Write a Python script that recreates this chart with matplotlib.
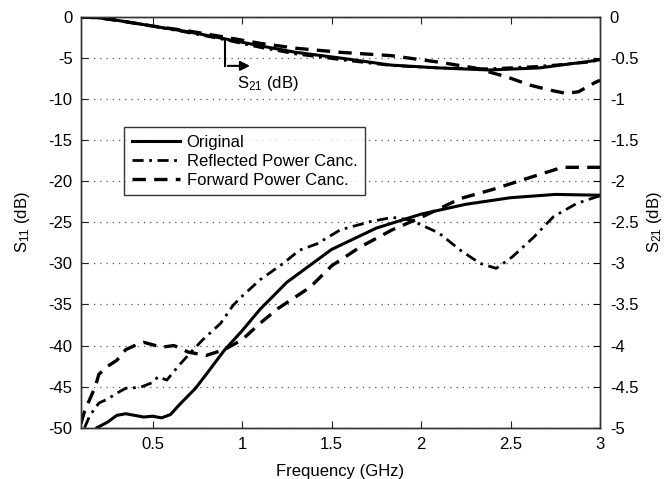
import matplotlib
matplotlib.use("Agg")
import matplotlib.pyplot as plt
import numpy as np

plt.rcParams['font.family'] = ['Liberation Sans', 'DejaVu Sans']
plt.rcParams['font.size'] = 12
plt.rcParams['mathtext.fontset'] = 'custom'
plt.rcParams['mathtext.rm'] = 'Liberation Sans'
plt.rcParams['mathtext.it'] = 'Liberation Sans'

# S11 (left axis, dB)
f_orig11 = [0.19, 0.25, 0.3, 0.35, 0.45, 0.5, 0.55, 0.6, 0.65, 0.74, 0.8, 0.9, 1.0, 1.1, 1.25, 1.5, 1.75, 2.0, 2.25, 2.5, 2.75, 3.0]
s11_orig = [-50, -49.3, -48.5, -48.3, -48.7, -48.6, -48.8, -48.4, -47.2, -45.2, -43.5, -40.6, -38.2, -35.6, -32.3, -28.3, -25.7, -24.0, -22.8, -22.0, -21.6, -21.7]

f_refl11 = [0.12, 0.15, 0.2, 0.25, 0.3, 0.35, 0.43, 0.5, 0.53, 0.58, 0.64, 0.71, 0.78, 0.88, 0.95, 1.0, 1.1, 1.23, 1.32, 1.42, 1.55, 1.72, 1.84, 1.94, 2.1, 2.22, 2.33, 2.42, 2.51, 2.63, 2.74, 2.87, 2.98, 3.0]
s11_refl = [-50, -48.5, -47.0, -46.5, -45.8, -45.2, -45.1, -44.5, -43.8, -44.2, -42.6, -40.9, -39.3, -37.3, -35.1, -34.0, -32.0, -30.0, -28.4, -27.6, -25.9, -24.9, -24.4, -24.7, -26.3, -28.4, -30.0, -30.6, -29.2, -26.8, -24.3, -22.7, -21.9, -21.8]

f_fwd11 = [0.1, 0.12, 0.15, 0.18, 0.2, 0.25, 0.3, 0.35, 0.4, 0.45, 0.55, 0.62, 0.7, 0.8, 0.9, 1.0, 1.1, 1.2, 1.38, 1.5, 1.66, 1.84, 2.0, 2.22, 2.4, 2.6, 2.79, 3.0]
s11_fwd = [-49.5, -48.0, -46.5, -45.0, -43.5, -42.5, -41.8, -40.5, -40.0, -39.6, -40.2, -40.0, -40.8, -41.2, -40.5, -39.3, -37.3, -35.5, -32.9, -30.3, -28.0, -25.9, -24.4, -22.1, -21.0, -19.6, -18.3, -18.3]

# S21 (right axis, dB)
f_21 = [0.1, 0.2, 0.3, 0.5, 0.7, 0.89, 1.1, 1.3, 1.55, 1.83, 2.1, 2.38, 2.66, 2.94, 3.0]
s21_orig = [0.0, -0.01, -0.04, -0.11, -0.18, -0.26, -0.35, -0.43, -0.50, -0.585, -0.62, -0.645, -0.62, -0.54, -0.52]
s21_refl = [0.0, -0.01, -0.04, -0.11, -0.19, -0.27, -0.37, -0.45, -0.52, -0.59, -0.62, -0.63, -0.60, -0.55, -0.52]
f_fwd21 = [0.1, 0.2, 0.3, 0.5, 0.7, 0.89, 1.1, 1.3, 1.55, 1.83, 2.1, 2.3, 2.48, 2.61, 2.72, 2.81, 2.88, 2.97, 3.0]
s21_fwd = [0.0, -0.01, -0.04, -0.11, -0.17, -0.24, -0.32, -0.38, -0.43, -0.47, -0.55, -0.62, -0.73, -0.83, -0.89, -0.93, -0.91, -0.80, -0.77]

fig = plt.figure(figsize=(6.67, 4.79), dpi=100)
ax = fig.add_axes([0.1214, 0.1071, 0.7782, 0.8574])
ax2 = ax.twinx()

lw = 2.2
l1, = ax.plot(f_orig11, s11_orig, color='black', lw=lw, ls='-', label='Original')
l2, = ax.plot(f_refl11, s11_refl, color='black', lw=2.0, ls=(0, (4, 2, 1, 2)), label='Reflected Power Canc.')
l3, = ax.plot(f_fwd11, s11_fwd, color='black', lw=2.4, ls=(0, (4, 2.5)), label='Forward Power Canc.')

ax2.plot(f_21, s21_orig, color='black', lw=lw, ls='-')
ax2.plot(f_21, s21_refl, color='black', lw=2.0, ls=(0, (4, 2, 1, 2)))
ax2.plot(f_fwd21, s21_fwd, color='black', lw=2.4, ls=(0, (4, 2.5)))

ax.set_xlim(0.1, 3)
ax.set_ylim(-50, 0)
ax2.set_ylim(-5, 0)
ax.set_xticks([0.5, 1, 1.5, 2, 2.5, 3])
ax.set_xticklabels(['0.5', '1', '1.5', '2', '2.5', '3'])
ax.set_yticks(np.arange(-50, 1, 5))
ax.set_yticklabels([str(v) for v in range(-50, 1, 5)])
r_ticks = np.arange(-5, 0.01, 0.5)
ax2.set_yticks(r_ticks)
ax2.set_yticklabels(['%g' % round(v, 1) if abs(v) > 1e-9 else '0' for v in r_ticks])

ax.yaxis.grid(True, linestyle=(0, (1, 4)), color='#555555', lw=0.9)
ax.set_axisbelow(True)

ax.tick_params(axis='both', direction='in', length=5, width=0.8, top=True, labelsize=12, colors='#222222', labelcolor='black')
ax.tick_params(axis='x', pad=7)
ax.tick_params(axis='y', pad=6)
ax2.tick_params(direction='in', length=5, width=0.8, labelsize=12, pad=7)
for a in (ax, ax2):
    for s in a.spines.values():
        s.set_linewidth(1.0)
        s.set_color('#333333')

ax.set_xlabel('Frequency (GHz)', fontsize=12, labelpad=8)
ax.set_ylabel('S$_{11}$ (dB)', fontsize=12, labelpad=12)
ax2.set_ylabel('S$_{21}$ (dB)', fontsize=12, labelpad=5)

# annotation arrow pointing to right axis
ax.annotate('', xy=(1.06, -5.95), xytext=(0.905, -5.95),
            arrowprops=dict(arrowstyle='-|>', color='black', lw=1.5, mutation_scale=14))
ax.plot([0.905, 0.905], [-2.7, -5.95], color='black', lw=1.5)
ax.text(0.97, -8.1, 'S$_{21}$ (dB)', fontsize=12, ha='left', va='center')

leg = ax.legend(handles=[l1, l2, l3], loc='upper left', bbox_to_anchor=(0.083, 0.732),
                frameon=True, fancybox=False, edgecolor='black', fontsize=12,
                handlelength=2.9, borderpad=0.45, labelspacing=0.25, handletextpad=0.4,
                borderaxespad=0)
leg.get_frame().set_linewidth(1.0)

fig.savefig('out.png', dpi=100)
